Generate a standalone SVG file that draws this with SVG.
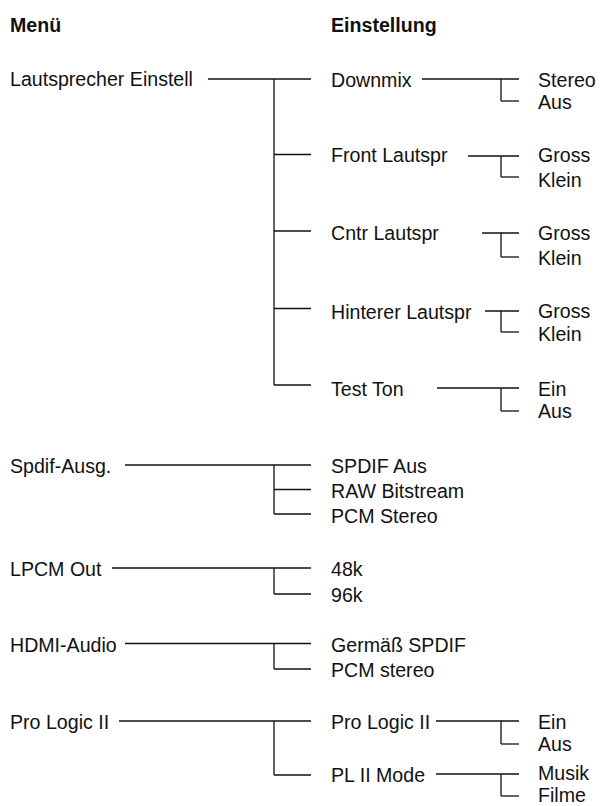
<svg xmlns="http://www.w3.org/2000/svg" width="600" height="806" viewBox="0 0 600 806">
<style>
text{font-family:"Liberation Sans",Arial,sans-serif;font-size:19.6px;fill:#111}
.h{font-weight:bold}
#connectors line{stroke:#111;stroke-width:1.3;fill:none}
</style>
<rect width="600" height="806" fill="#fff"/>
<g id="headers">
<text class="h" x="10" y="32">Menü</text>
<text class="h" x="331" y="32">Einstellung</text>
</g>
<g id="connectors">
<line x1="208" y1="79" x2="311" y2="79"/>
<line x1="274" y1="79" x2="274" y2="385"/>
<line x1="274" y1="154.5" x2="311" y2="154.5"/>
<line x1="274" y1="231" x2="311" y2="231"/>
<line x1="274" y1="308.5" x2="311" y2="308.5"/>
<line x1="274" y1="385" x2="311" y2="385"/>
<line x1="422" y1="79" x2="519" y2="79"/>
<line x1="501" y1="79" x2="501" y2="101"/>
<line x1="501" y1="101" x2="519" y2="101"/>
<line x1="468" y1="156" x2="519" y2="156"/>
<line x1="501" y1="156" x2="501" y2="177"/>
<line x1="501" y1="177" x2="519" y2="177"/>
<line x1="482" y1="233" x2="519" y2="233"/>
<line x1="501" y1="233" x2="501" y2="257"/>
<line x1="501" y1="257" x2="519" y2="257"/>
<line x1="485" y1="311" x2="519" y2="311"/>
<line x1="501" y1="311" x2="501" y2="332"/>
<line x1="501" y1="332" x2="519" y2="332"/>
<line x1="437" y1="388" x2="519" y2="388"/>
<line x1="501" y1="388" x2="501" y2="411"/>
<line x1="501" y1="411" x2="519" y2="411"/>
<line x1="125" y1="465" x2="311" y2="465"/>
<line x1="274" y1="465" x2="274" y2="514"/>
<line x1="274" y1="489.5" x2="311" y2="489.5"/>
<line x1="274" y1="514" x2="311" y2="514"/>
<line x1="112" y1="568" x2="311" y2="568"/>
<line x1="274" y1="568" x2="274" y2="594"/>
<line x1="274" y1="594" x2="311" y2="594"/>
<line x1="125" y1="643.5" x2="311" y2="643.5"/>
<line x1="274" y1="643.5" x2="274" y2="669"/>
<line x1="274" y1="669" x2="311" y2="669"/>
<line x1="119" y1="721" x2="311" y2="721"/>
<line x1="274" y1="721" x2="274" y2="775"/>
<line x1="274" y1="775" x2="311" y2="775"/>
<line x1="436" y1="721" x2="519" y2="721"/>
<line x1="501" y1="721" x2="501" y2="744"/>
<line x1="501" y1="744" x2="519" y2="744"/>
<line x1="436" y1="774" x2="519" y2="774"/>
<line x1="501" y1="774" x2="501" y2="796"/>
<line x1="501" y1="796" x2="519" y2="796"/>
</g>
<g id="n-lautsprecher"><text x="10" y="86">Lautsprecher Einstell</text></g>
<g id="n-downmix"><text x="331" y="86.5">Downmix</text></g>
<g id="n-downmix-stereo"><text x="538" y="87">Stereo</text></g>
<g id="n-downmix-aus"><text x="538" y="109">Aus</text></g>
<g id="n-front"><text x="331" y="162">Front Lautspr</text></g>
<g id="n-front-gross"><text x="538" y="162">Gross</text></g>
<g id="n-front-klein"><text x="538" y="187">Klein</text></g>
<g id="n-cntr"><text x="331" y="240">Cntr Lautspr</text></g>
<g id="n-cntr-gross"><text x="538" y="240">Gross</text></g>
<g id="n-cntr-klein"><text x="538" y="265">Klein</text></g>
<g id="n-hinterer"><text x="331" y="319">Hinterer Lautspr</text></g>
<g id="n-hinterer-gross"><text x="538" y="318">Gross</text></g>
<g id="n-hinterer-klein"><text x="538" y="341">Klein</text></g>
<g id="n-testton"><text x="331" y="396">Test Ton</text></g>
<g id="n-testton-ein"><text x="538" y="396">Ein</text></g>
<g id="n-testton-aus"><text x="538" y="418">Aus</text></g>
<g id="n-spdif"><text x="10" y="472.5">Spdif-Ausg.</text></g>
<g id="n-spdif-aus"><text x="331" y="472.5">SPDIF Aus</text></g>
<g id="n-spdif-raw"><text x="331" y="497.5">RAW Bitstream</text></g>
<g id="n-spdif-pcm"><text x="331" y="522.5">PCM Stereo</text></g>
<g id="n-lpcm"><text x="10" y="576">LPCM Out</text></g>
<g id="n-lpcm-48"><text x="331" y="576">48k</text></g>
<g id="n-lpcm-96"><text x="331" y="602">96k</text></g>
<g id="n-hdmi"><text x="10" y="651.5">HDMI-Audio</text></g>
<g id="n-hdmi-spdif"><text x="331" y="651.5">Germäß SPDIF</text></g>
<g id="n-hdmi-pcm"><text x="331" y="677">PCM stereo</text></g>
<g id="n-prologic"><text x="10" y="728.5">Pro Logic II</text></g>
<g id="n-prologic-sub"><text x="331" y="728.5">Pro Logic II</text></g>
<g id="n-prologic-ein"><text x="538" y="728.5">Ein</text></g>
<g id="n-prologic-aus"><text x="538" y="750.5">Aus</text></g>
<g id="n-plmode"><text x="331" y="781.5">PL II Mode</text></g>
<g id="n-plmode-musik"><text x="538" y="779.5">Musik</text></g>
<g id="n-plmode-filme"><text x="538" y="801.5">Filme</text></g>
</svg>
